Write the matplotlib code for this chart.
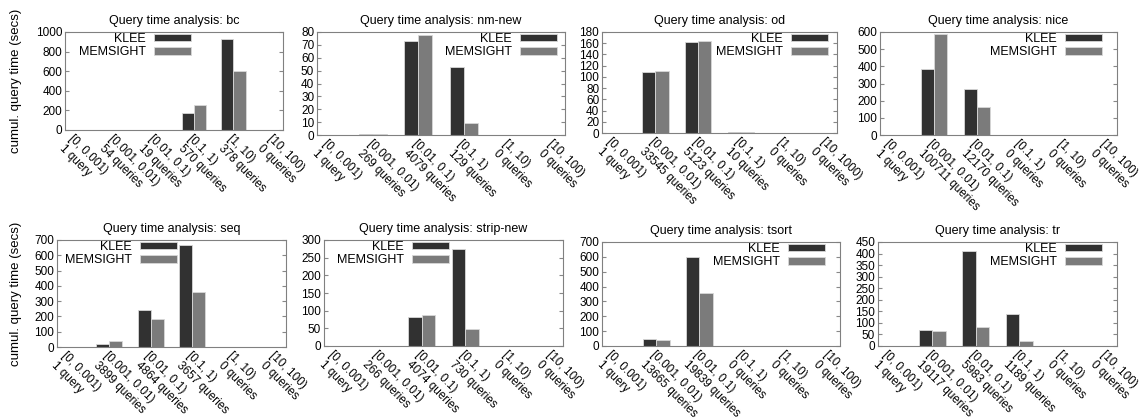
import numpy as np
import matplotlib
matplotlib.use('Agg')
import matplotlib.pyplot as plt
import matplotlib.transforms as mtransforms

plt.rcParams['font.family'] = ['Liberation Sans', 'DejaVu Sans']
plt.rcParams['font.size'] = 8.5

# 数据：每个程序的区间、查询数以及累计查询时间
names = ['bc', 'nm-new', 'od', 'nice', 'seq', 'strip-new', 'tsort', 'tr']
bins = ['[0, 0.001)', '[0.001, 0.01)', '[0.01, 0.1)', '[0.1, 1)', '[1, 10)', '[10, 100)']
bins_od = ['[0, 0.001)', '[0.001, 0.01)', '[0.01, 0.1)', '[0.1, 1)', '[1, 10)', '[10, 1000)']

queries = {
    'bc':        ['1 query', '54 queries', '19 queries', '570 queries', '378 queries', '0 queries'],
    'nm-new':    ['1 query', '269 queries', '4079 queries', '129 queries', '0 queries', '0 queries'],
    'od':        ['1 query', '33545 queries', '5123 queries', '10 queries', '0 queries', '0 queries'],
    'nice':      ['1 query', '100711 queries', '12170 queries', '0 queries', '0 queries', '0 queries'],
    'seq':       ['1 query', '3899 queries', '4864 queries', '3657 queries', '0 queries', '0 queries'],
    'strip-new': ['1 query', '266 queries', '4074 queries', '730 queries', '0 queries', '0 queries'],
    'tsort':     ['1 query', '13665 queries', '19839 queries', '0 queries', '0 queries', '0 queries'],
    'tr':        ['1 query', '19117 queries', '5983 queries', '1189 queries', '0 queries', '0 queries'],
}

klee = {
    'bc':        [0, 0, 0, 170, 930, 0],
    'nm-new':    [0, 0.5, 73, 53, 0, 0],
    'od':        [0, 109, 163, 1, 0, 0],
    'nice':      [0, 385, 270, 0, 0, 0],
    'seq':       [0, 22, 240, 670, 0, 0],
    'strip-new': [0, 0, 82, 275, 0, 0],
    'tsort':     [0, 45, 600, 0, 0, 0],
    'tr':        [0, 70, 410, 137, 0, 0],
}
memsight = {
    'bc':        [0, 0, 0, 255, 600, 0],
    'nm-new':    [0, 0.5, 78, 9.5, 0, 0],
    'od':        [0, 110, 164, 1, 0, 0],
    'nice':      [0, 590, 165, 0, 0, 0],
    'seq':       [0, 38, 185, 358, 0, 0],
    'strip-new': [0, 0, 88, 48, 0, 0],
    'tsort':     [0, 42, 360, 0, 0, 0],
    'tr':        [0, 65, 83, 20, 0, 0],
}
ymax = {'bc': 1000, 'nm-new': 80, 'od': 180, 'nice': 600,
        'seq': 700, 'strip-new': 300, 'tsort': 700, 'tr': 450}
ystep = {'bc': 200, 'nm-new': 10, 'od': 20, 'nice': 100,
         'seq': 100, 'strip-new': 50, 'tsort': 100, 'tr': 50}

# 版面（像素）：left, right, top, bottom, 图例右端x
W, H = 1141, 420
layout = {
    'bc':        (65, 283, 32, 130, 191),
    'nm-new':    (317, 565, 32, 135, 557),
    'od':        (602, 837, 32, 133, 828),
    'nice':      (880, 1117, 32, 135, 1102),
    'seq':       (57, 286, 240, 347, 177),
    'strip-new': (324, 563, 240, 346, 449),
    'tsort':     (602, 840, 242, 346, 825),
    'tr':        (878, 1117, 242, 346, 1102),
}

fig = plt.figure(figsize=(W / 100, H / 100), dpi=100)
w = 0.31
x = np.arange(6)

for name in names:
    l, r, t, b, lx = layout[name]
    ax = fig.add_axes([l / W, 1 - b / H, (r - l) / W, (b - t) / H])
    ax.bar(x - w / 2, klee[name], w, color='#313131', edgecolor='#d8d8d8', linewidth=0.6, label='KLEE')
    ax.bar(x + w / 2, memsight[name], w, color='#7b7b7b', edgecolor='#d8d8d8', linewidth=0.6, label='MEMSIGHT')
    ax.set_xlim(-0.25, 5.25)
    ax.set_ylim(0, ymax[name])
    ax.set_yticks(np.arange(0, ymax[name] + 1, ystep[name]))
    bl = bins_od if name == 'od' else bins
    ax.set_xticks(x)
    ax.set_xticklabels([bl[i] + '\n' + queries[name][i] for i in range(6)],
                       rotation=-45, ha='left', va='top', rotation_mode='anchor',
                       linespacing=1.15, fontsize=8.5)
    off = mtransforms.ScaledTranslation(-5 / 100, -4 / 100, fig.dpi_scale_trans)
    for lab in ax.get_xticklabels():
        lab.set_transform(lab.get_transform() + off)
    ax.tick_params(axis='x', length=0, pad=2)
    ax.tick_params(axis='y', direction='in', length=3, right=True, pad=2, color='#888888')
    for s in ax.spines.values():
        s.set_color('#808080')
        s.set_linewidth(0.8)
    ax.set_title('Query time analysis: ' + name, pad=5.5, fontsize=9)
    if name in ('bc', 'seq'):
        ax.set_ylabel('cumul. query time (secs)', fontsize=9.5)
        ax.yaxis.set_label_coords((22 - l) / (r - l), 0.5)
    ax.legend(loc='upper right', bbox_to_anchor=((lx - l) / (r - l), 1 - 1 / (b - t)),
              frameon=False, markerfirst=False, handlelength=3.0, handleheight=0.55,
              handletextpad=0.6, labelspacing=0.1, borderpad=0, borderaxespad=0,
              fontsize=9)

plt.savefig('out.png', dpi=100)
